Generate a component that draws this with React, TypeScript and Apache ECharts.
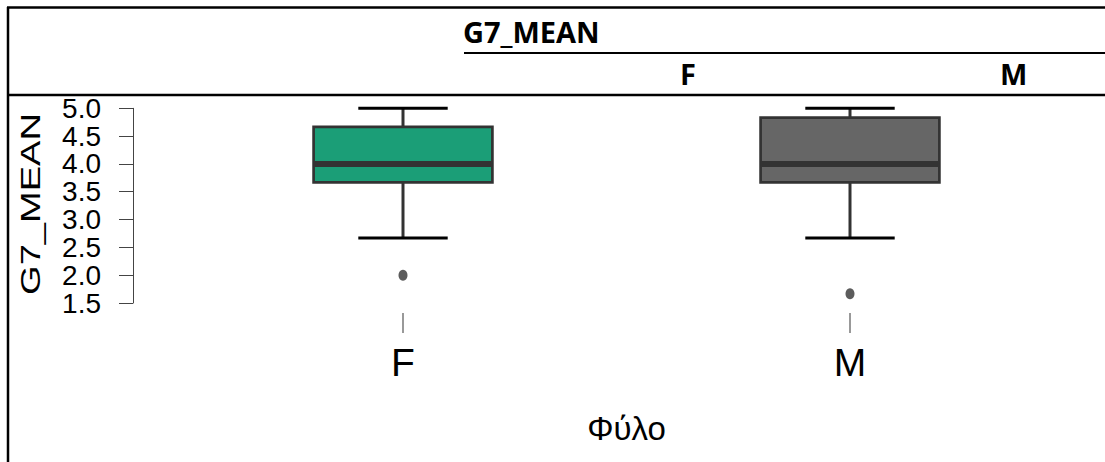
import React, { useEffect, useRef } from "react";
import * as echarts from "echarts";

// Groups on the x axis and their box statistics for G7_MEAN
const groups = ["F", "M"];
const lowerWhisker = [2.667, 2.667];
const lowerQuartile = [3.667, 3.667];
const medians = [4.0, 4.0];
const upperQuartile = [4.667, 4.833];
const upperWhisker = [5.0, 5.0];
const boxFills = ["#1B9E77", "#666666"];

// Outlying observations: [group index, value]
const outlierGroup = [0, 1];
const outlierValue = [2.0, 1.667];

// Value axis range
const yMin = 1.5;
const yMax = 5.0;
const yStep = 0.5;

const headerTitle = "G7_MEAN";
const axisTitleY = "G7_MEAN";
const axisTitleX = "Φύλο";

export default function App() {
  const ref = useRef<HTMLDivElement>(null);

  useEffect(() => {
    if (!ref.current) return;
    const chart = echarts.init(ref.current, undefined, { renderer: "svg" });

    const boxData = groups.map((_, i) => [
      i,
      lowerWhisker[i],
      lowerQuartile[i],
      medians[i],
      upperQuartile[i],
      upperWhisker[i],
    ]);
    const outlierData = outlierGroup.map((g, i) => [g, outlierValue[i]]);

    const plotFont = "'Liberation Sans', Arial, sans-serif";
    const headFont = "'Open Sans', 'Noto Sans', sans-serif";

    chart.setOption({
      animation: false,
      backgroundColor: "#ffffff",
      grid: {
        left: 179.5,
        top: 108.3,
        width: 894,
        height: 194.7,
        containLabel: false,
        outerBoundsMode: "none",
      },
      xAxis: {
        type: "category",
        data: groups,
        offset: 10,
        axisLine: { show: false },
        axisTick: {
          show: true,
          alignWithLabel: true,
          length: 20,
          lineStyle: { color: "#777777", width: 1.5 },
        },
        axisLabel: {
          fontSize: 39,
          margin: 30,
          color: "#000000",
          fontFamily: plotFont,
        },
        name: axisTitleX,
        nameLocation: "middle",
        nameGap: 99,
        nameTextStyle: { fontSize: 33, color: "#000000", fontFamily: plotFont },
        splitLine: { show: false },
      },
      yAxis: {
        type: "value",
        min: yMin,
        max: yMax,
        interval: yStep,
        offset: 46.5,
        axisLine: { show: true, lineStyle: { color: "#444444", width: 1 } },
        axisTick: { show: true, length: 14, lineStyle: { color: "#444444", width: 1 } },
        axisLabel: {
          fontSize: 28,
          margin: 32,
          color: "#000000",
          fontFamily: plotFont,
          formatter: (v: number) => v.toFixed(1),
        },
        splitLine: { show: false },
      },
      series: [
        {
          type: "custom",
          data: boxData,
          encode: { x: 0, y: [1, 2, 3, 4, 5] },
          renderItem: (params: any, api: any) => {
            const idx = api.value(0);
            const lw = api.coord([idx, api.value(1)]);
            const q1 = api.coord([idx, api.value(2)]);
            const md = api.coord([idx, api.value(3)]);
            const q3 = api.coord([idx, api.value(4)]);
            const uw = api.coord([idx, api.value(5)]);
            const band = api.size([1, 0])[0];
            const boxW = band * 0.4;
            const capW = boxW / 2;
            const cx = md[0];
            const dark = "#333333";
            return {
              type: "group",
              children: [
                {
                  type: "line",
                  shape: { x1: cx, y1: q3[1], x2: cx, y2: uw[1] },
                  style: { stroke: dark, lineWidth: 3 },
                },
                {
                  type: "line",
                  shape: { x1: cx, y1: q1[1], x2: cx, y2: lw[1] },
                  style: { stroke: dark, lineWidth: 3 },
                },
                {
                  type: "line",
                  shape: { x1: cx - capW / 2, y1: uw[1], x2: cx + capW / 2, y2: uw[1] },
                  style: { stroke: "#000000", lineWidth: 3 },
                },
                {
                  type: "line",
                  shape: { x1: cx - capW / 2, y1: lw[1], x2: cx + capW / 2, y2: lw[1] },
                  style: { stroke: "#000000", lineWidth: 3 },
                },
                {
                  type: "rect",
                  shape: { x: cx - boxW / 2, y: q3[1], width: boxW, height: q1[1] - q3[1] },
                  style: { fill: boxFills[idx], stroke: dark, lineWidth: 2.7 },
                },
                {
                  type: "line",
                  shape: { x1: cx - boxW / 2, y1: md[1], x2: cx + boxW / 2, y2: md[1] },
                  style: { stroke: dark, lineWidth: 6 },
                },
              ],
            };
          },
        },
        {
          type: "scatter",
          data: outlierData,
          symbol: "circle",
          symbolSize: [9, 11],
          itemStyle: { color: "#333333" },
        },
      ],
      graphic: [
        {
          type: "text",
          x: 30,
          y: 204,
          rotation: Math.PI / 2,
          scaleX: 1.36,
          style: {
            text: axisTitleY,
            fontSize: 28,
            fontFamily: plotFont,
            fill: "#000000",
            align: "center",
            verticalAlign: "middle",
          },
        },
        // header cell background (keeps the plot beneath the header rule)
        {
          type: "rect",
          z: 100,
          shape: { x: 0, y: 0, width: 1105, height: 95 },
          style: { fill: "#ffffff" },
        },
        {
          type: "line",
          z: 101,
          shape: { x1: 7, y1: 7.5, x2: 1105, y2: 7.5 },
          style: { stroke: "#000000", lineWidth: 2.5 },
        },
        {
          type: "line",
          z: 101,
          shape: { x1: 8, y1: 7, x2: 8, y2: 462 },
          style: { stroke: "#000000", lineWidth: 2.5 },
        },
        {
          type: "line",
          z: 101,
          shape: { x1: 464, y1: 53, x2: 1105, y2: 53 },
          style: { stroke: "#000000", lineWidth: 2 },
        },
        {
          type: "line",
          z: 101,
          shape: { x1: 7, y1: 95, x2: 1105, y2: 95 },
          style: { stroke: "#000000", lineWidth: 2.5 },
        },
        {
          type: "text",
          z: 101,
          x: 463,
          y: 31,
          style: {
            text: headerTitle,
            fontSize: 29,
            fontWeight: "bold",
            fontFamily: headFont,
            fill: "#000000",
            align: "left",
            verticalAlign: "middle",
          },
        },
        {
          type: "text",
          z: 101,
          x: 680,
          y: 73,
          style: {
            text: groups[0],
            fontSize: 29,
            fontWeight: "bold",
            fontFamily: headFont,
            fill: "#000000",
            align: "left",
            verticalAlign: "middle",
          },
        },
        {
          type: "text",
          z: 101,
          x: 1000,
          y: 73,
          style: {
            text: groups[1],
            fontSize: 29,
            fontWeight: "bold",
            fontFamily: headFont,
            fill: "#000000",
            align: "left",
            verticalAlign: "middle",
          },
        },
      ],
    });

    return () => {
      chart.dispose();
    };
  }, []);

  return (
    <div
      ref={ref}
      style={{ position: "fixed", left: 0, top: 0, width: 1105, height: 462 }}
    />
  );
}
